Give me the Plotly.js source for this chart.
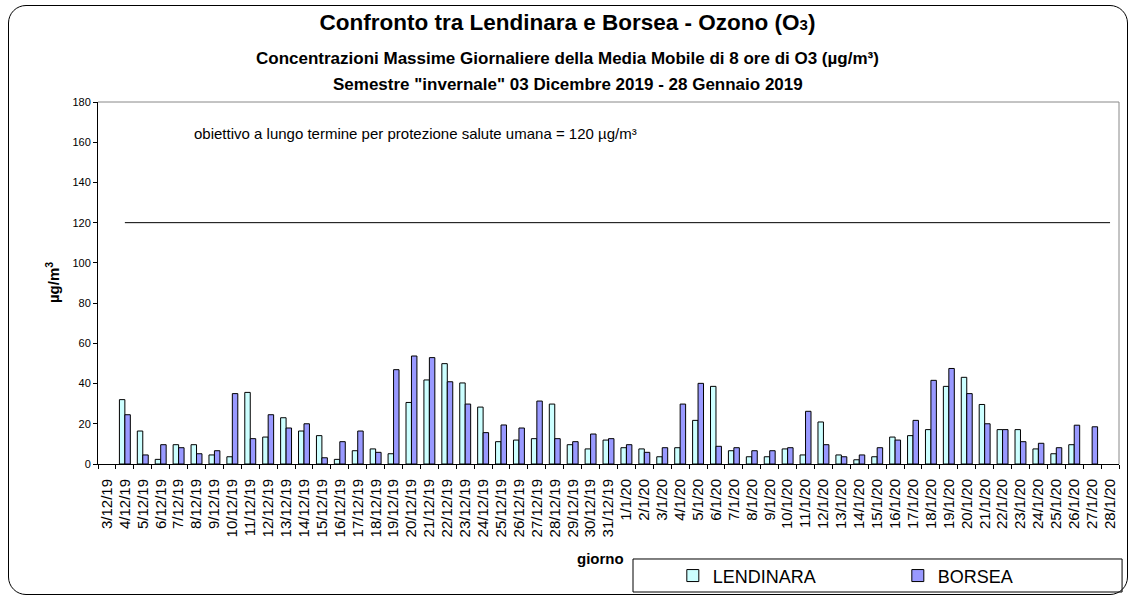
<!DOCTYPE html>
<html>
<head>
<meta charset="utf-8">
<script src="https://cdn.plot.ly/plotly-3.0.1.min.js"></script>
<style>
  html, body { margin: 0; padding: 0; background: #fff; }
  #wrap { position: relative; width: 1135px; height: 599px; }
  #chart { width: 1135px; height: 599px; }
  #frame { position: absolute; left: 8px; top: 5px; width: 1118px; height: 588px;
           border: 1px solid #000; border-radius: 18px; pointer-events: none; }
</style>
</head>
<body>
<div id="wrap"><div id="chart"></div><div id="frame"></div></div>
<script>
// ---- data ----
const giorni = [
  "3/12/19","4/12/19","5/12/19","6/12/19","7/12/19","8/12/19","9/12/19","10/12/19",
  "11/12/19","12/12/19","13/12/19","14/12/19","15/12/19","16/12/19","17/12/19","18/12/19",
  "19/12/19","20/12/19","21/12/19","22/12/19","23/12/19","24/12/19","25/12/19","26/12/19",
  "27/12/19","28/12/19","29/12/19","30/12/19","31/12/19","1/1/20","2/1/20","3/1/20",
  "4/1/20","5/1/20","6/1/20","7/1/20","8/1/20","9/1/20","10/1/20","11/1/20",
  "12/1/20","13/1/20","14/1/20","15/1/20","16/1/20","17/1/20","18/1/20","19/1/20",
  "20/1/20","21/1/20","22/1/20","23/1/20","24/1/20","25/1/20","26/1/20","27/1/20","28/1/20"
];
const lendinara = [
  null, 32, 16.4, 2.3, 9.6, 9.6, 4.5, 3.6,
  35.6, 13.4, 23, 16.4, 14.1, 2.3, 6.6, 7.5,
  5.1, 30.6, 41.8, 49.9, 40.3, 28.3, 11.1, 11.9,
  12.6, 29.8, 9.6, 7.5, 11.9, 8.1, 7.5, 3.6,
  8.1, 21.7, 38.6, 6.6, 3.6, 3.6, 7.5, 4.5,
  20.9, 4.5, 2.1, 3.6, 13.4, 14.1, 17.1, 38.6,
  43.1, 29.6, 17.1, 17.1, 7.5, 5.1, 9.6, null, null
];
const borsea = [
  null, 24.5, 4.5, 9.6, 8.1, 5.1, 6.6, 35,
  12.6, 24.5, 17.9, 20, 3.1, 11.1, 16.4, 5.8,
  46.9, 53.7, 52.9, 40.9, 29.8, 15.6, 19.4, 17.9,
  31.3, 12.6, 11.1, 14.9, 12.6, 9.6, 5.8, 8.1,
  29.8, 40.1, 8.8, 8.1, 6.6, 6.6, 8.1, 26.2,
  9.6, 3.6, 4.5, 8.1, 11.9, 21.7, 41.6, 47.5,
  35, 20, 17.1, 11.1, 10.3, 8.1, 19.3, 18.5, null
];
const obiettivo = 120;
const giorniObiettivo = giorni.slice(1);
const valoriObiettivo = giorniObiettivo.map(() => obiettivo);

const FONT = "Liberation Sans, Arial, sans-serif";

const traces = [
  { type: "bar", name: "LENDINARA", x: giorni, y: lendinara,
    marker: { color: "#CCFFFF", line: { color: "#000", width: 1 } } },
  { type: "bar", name: "BORSEA", x: giorni, y: borsea,
    marker: { color: "#9999FF", line: { color: "#000", width: 1 } } },
  { type: "scatter", mode: "lines", name: "obiettivo", x: giorniObiettivo, y: valoriObiettivo,
    line: { color: "#000", width: 1 }, showlegend: false, hoverinfo: "skip" }
];

const layout = {
  width: 1135, height: 599,
  margin: { l: 98, r: 16, t: 102, b: 135, autoexpand: false },
  paper_bgcolor: "#fff", plot_bgcolor: "#fff",
  font: { family: FONT, color: "#000" },
  barmode: "group", bargap: 0.39, bargroupgap: 0,
  title: { text: "Confronto tra Lendinara e Borsea - Ozono (O<span style='font-size:15px'>3</span>)",
           font: { family: FONT, size: 22.5, color: "#000", weight: "bold" },
           x: 0.5, xanchor: "center", y: 1 - 22/599, yanchor: "middle", yref: "container" },
  xaxis: { type: "category", range: [-0.5, 56.5], tickangle: -90, automargin: false,
           tickmode: "linear", tick0: 0, dtick: 1, ticklabelstandoff: 8,
           tickfont: { size: 15, family: FONT }, ticks: "outside", tickson: "boundaries",
           ticklen: 4, tickcolor: "#000", showline: true, linecolor: "#000", linewidth: 1,
           showgrid: false, zeroline: false, fixedrange: true },
  yaxis: { range: [0, 180], dtick: 20, tickfont: { size: 11, family: FONT }, automargin: false,
           ticks: "outside", ticklen: 4, tickcolor: "#000", showline: true,
           linecolor: "#000", linewidth: 1, showgrid: false, zeroline: false },
  showlegend: true,
  legend: { orientation: "h", x: 0.563, xanchor: "left", y: -0.309, yanchor: "middle",
            bgcolor: "rgba(0,0,0,0)", font: { size: 18, family: FONT },
            entrywidth: 180, entrywidthmode: "pixels", traceorder: "normal" },
  shapes: [
    { type: "line", xref: "paper", yref: "paper", x0: 0, x1: 1, y0: 1, y1: 1,
      line: { color: "#888", width: 1 } },
    { type: "line", xref: "paper", yref: "paper", x0: 1, x1: 1, y0: 0, y1: 1,
      line: { color: "#888", width: 1 } },
    { type: "rect", xref: "paper", yref: "paper", x0: 0.524, x1: 1.003, y0: -0.3536, y1: -0.2624,
      line: { color: "#000", width: 1 } }
  ],
  annotations: [
    { text: "<b>Concentrazioni Massime Giornaliere della Media Mobile di 8 ore di O3 (µg/m³)</b>",
      xref: "paper", yref: "paper", x: 0.4603, y: 1.1215, xanchor: "center", yanchor: "middle",
      showarrow: false, font: { size: 17, family: FONT } },
    { text: "<b>Semestre \"invernale\" 03 Dicembre 2019 - 28 Gennaio 2019</b>",
      xref: "paper", yref: "paper", x: 0.4603, y: 1.0497, xanchor: "center", yanchor: "middle",
      showarrow: false, font: { size: 17, family: FONT } },
    { text: "obiettivo a lungo termine per protezione salute umana = 120 µg/m³",
      xref: "paper", yref: "paper", x: 0.092, xanchor: "left", y: 0.914, yanchor: "middle",
      showarrow: false, font: { size: 15, family: FONT } },
    { text: "<b>µg/m<sup>3</sup></b>", textangle: -90,
      xref: "paper", yref: "paper", x: -0.045, y: 0.5, xanchor: "center", yanchor: "middle",
      showarrow: false, font: { size: 15, family: FONT } },
    { text: "<b>giorno</b>",
      xref: "paper", yref: "paper", x: 0.4917, y: -0.262, xanchor: "center", yanchor: "middle",
      showarrow: false, font: { size: 15, family: FONT } }
  ]
};

Plotly.newPlot("chart", traces, layout, { displayModeBar: false, staticPlot: true });
</script>
</body>
</html>
